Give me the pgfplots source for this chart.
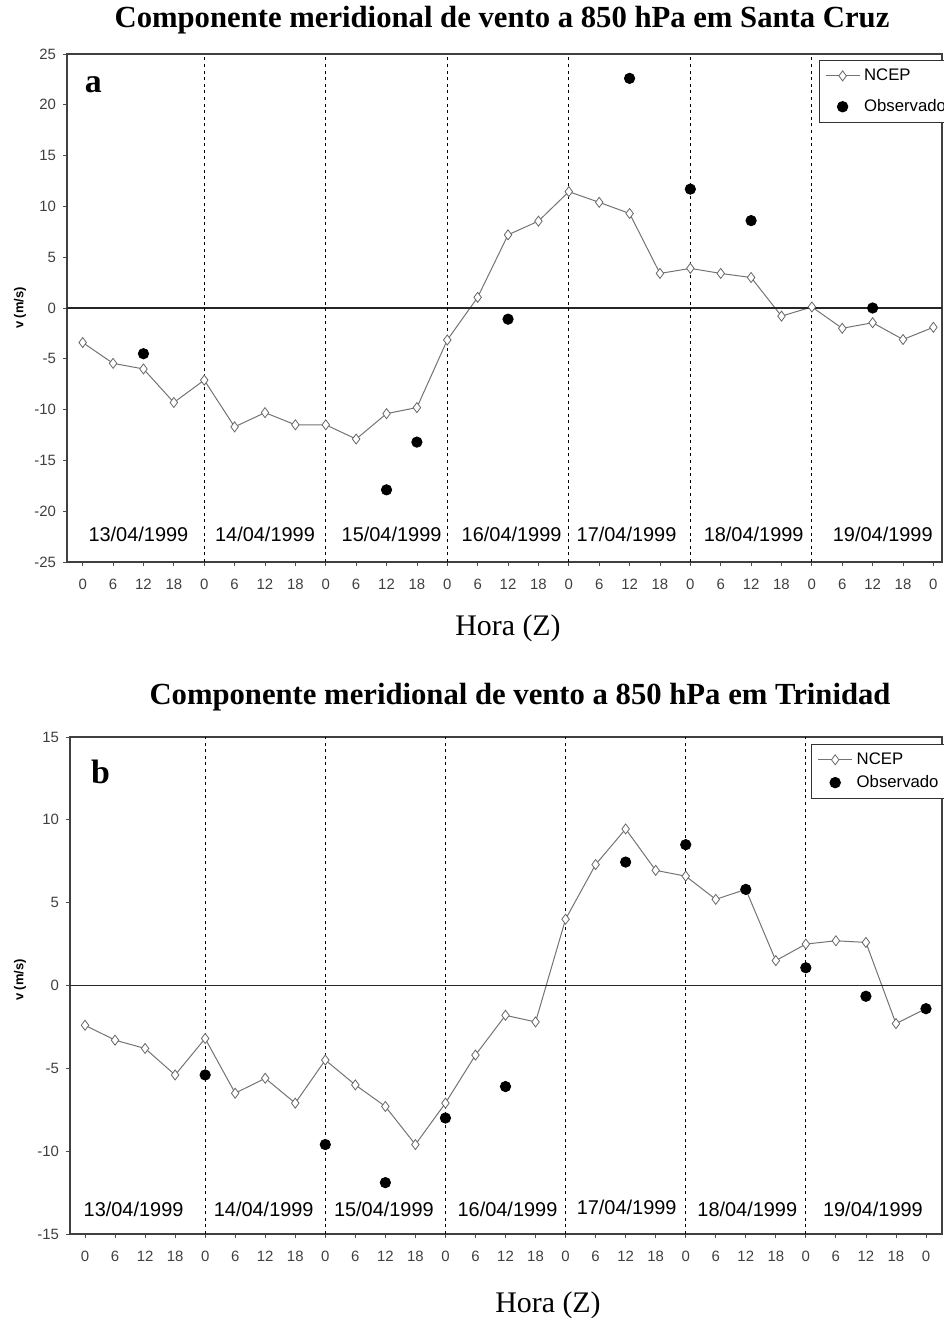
\documentclass[border=0pt]{standalone}
\usepackage{fontspec}
\setmainfont{Liberation Sans}
\newfontfamily\serif{Liberation Serif}
\usepackage{pgfplots}
\pgfplotsset{compat=1.18}
\pgfplotsset{
 myax/.style={
  scale only axis, anchor=south west,
  xtick={0,6,...,168},
  xticklabels={0,6,12,18,0,6,12,18,0,6,12,18,0,6,12,18,0,6,12,18,0,6,12,18,0,6,12,18,0},
  xtick pos=bottom, ytick pos=left, tick align=outside, major tick length=2bp,
  tick style={black!70, line width=0.4pt},
  axis line style={black!75, line width=0.6pt},
  ticklabel style={font=\fontsize{7.5}{8}\selectfont, text=black!75},
  xticklabel style={yshift=-3bp},
  /pgf/number format/assume math mode=true,
  clip=false,
  legend cell align=left,
  legend style={font=\fontsize{8.4}{9}\selectfont, draw=black!80, line width=0.5pt, anchor=north west},
 },
 ncep/.style={black!55, line width=0.5pt, mark=diamond*, mark options={fill=white, draw=black!60, line width=0.4pt}, mark size=2.5bp},
 obs/.style={only marks, mark=*, mark size=2.6bp, black, mark options={fill=black}},
 vl/.style={forget plot, black, line width=0.5pt, dash pattern=on 1.5bp off 1.8bp},
}
\begin{document}
\begin{tikzpicture}
\useasboundingbox (0,0) rectangle (472bp,659bp);
% titles
\node[font=\serif\bfseries\fontsize{15.4}{18}\selectfont] at (251bp,649bp) {Componente meridional de vento a 850 hPa em Santa Cruz};
\node[font=\serif\bfseries\fontsize{15.4}{18}\selectfont] at (260bp,310.5bp) {Componente meridional de vento a 850 hPa em Trinidad};
\node[font=\serif\fontsize{15}{18}\selectfont] at (254bp,345bp) {Hora (Z)};
\node[font=\serif\fontsize{15}{18}\selectfont] at (274bp,6.5bp) {Hora (Z)};
\node[font=\bfseries\fontsize{6.5}{8}\selectfont, rotate=90] at (10bp,505bp) {v (m/s)};
\node[font=\bfseries\fontsize{6.5}{8}\selectfont, rotate=90] at (10bp,169bp) {v (m/s)};

% top axis
\begin{axis}[myax, at={(33.5bp,378bp)}, width=437.5bp, height=254bp,
  xmin=-3.1, xmax=169.7, ymin=-25, ymax=25, ytick={-25,-20,...,25},
  legend style={at={(rel axis cs:0.859,0.988)}, row sep=4bp}]
\addplot[ncep] coordinates {(0,-3.4)(6,-5.45)(12,-6.0)(18,-9.3)(24,-7.1)(30,-11.7)(36,-10.3)(42,-11.5)(48,-11.5)(54,-12.9)(60,-10.4)(66,-9.8)(72,-3.15)(78,1.05)(84,7.2)(90,8.55)(96,11.45)(102,10.4)(108,9.3)(114,3.4)(120,3.9)(126,3.4)(132,3.0)(138,-0.8)(144,0.1)(150,-2.0)(156,-1.45)(162,-3.1)(168,-1.9)};
\addlegendentry{NCEP}
\addplot[obs] coordinates {(12,-4.5)(60,-17.9)(66,-13.2)(84,-1.1)(108,22.6)(120,11.7)(132,8.6)(156,0.0)};
\addlegendentry{Observado}
\addplot[forget plot, black!85, line width=0.6pt] coordinates {(-3.1,0)(169.7,0)};
\addplot[vl] coordinates {(24,-25)(24,25)};
\addplot[vl] coordinates {(48,-25)(48,25)};
\addplot[vl] coordinates {(72,-25)(72,25)};
\addplot[vl] coordinates {(96,-25)(96,25)};
\addplot[vl] coordinates {(120,-25)(120,25)};
\addplot[vl] coordinates {(144,-25)(144,25)};
\node[font=\serif\bfseries\fontsize{17}{20}\selectfont] at (rel axis cs:0.03,0.94) {a};
\begin{scope}[every node/.style={font=\fontsize{10}{12}\selectfont}]
\node at (axis cs:11,-22.3) {13/04/1999};
\node at (axis cs:36,-22.3) {14/04/1999};
\node at (axis cs:61,-22.3) {15/04/1999};
\node at (axis cs:84.7,-22.3) {16/04/1999};
\node at (axis cs:107.4,-22.3) {17/04/1999};
\node at (axis cs:132.5,-22.3) {18/04/1999};
\node at (axis cs:158,-22.3) {19/04/1999};
\end{scope}
\end{axis}

% bottom axis
\begin{axis}[myax, at={(35bp,42bp)}, width=436bp, height=248.5bp,
  xmin=-3.0, xmax=171.2, ymin=-15, ymax=15, ytick={-15,-10,...,15},
  legend style={at={(rel axis cs:0.85,0.986)}, row sep=0bp}]
\addplot[ncep] coordinates {(0,-2.4)(6,-3.3)(12,-3.8)(18,-5.4)(24,-3.2)(30,-6.5)(36,-5.6)(42,-7.1)(48,-4.5)(54,-6.0)(60,-7.3)(66,-9.6)(72,-7.1)(78,-4.2)(84,-1.8)(90,-2.2)(96,4.0)(102,7.3)(108,9.45)(114,6.95)(120,6.6)(126,5.2)(132,5.8)(138,1.5)(144,2.5)(150,2.7)(156,2.6)(162,-2.3)(168,-1.4)};
\addlegendentry{NCEP}
\addplot[obs] coordinates {(24,-5.4)(48,-9.6)(60,-11.9)(72,-8.0)(84,-6.1)(108,7.45)(120,8.5)(132,5.8)(144,1.07)(156,-0.65)(168,-1.4)};
\addlegendentry{Observado}
\addplot[forget plot, black!85, line width=0.6pt] coordinates {(-3.0,0)(171.2,0)};
\addplot[vl] coordinates {(24,-15)(24,15)};
\addplot[vl] coordinates {(48,-15)(48,15)};
\addplot[vl] coordinates {(72,-15)(72,15)};
\addplot[vl] coordinates {(96,-15)(96,15)};
\addplot[vl] coordinates {(120,-15)(120,15)};
\addplot[vl] coordinates {(144,-15)(144,15)};
\node[font=\serif\bfseries\fontsize{17}{20}\selectfont] at (rel axis cs:0.035,0.93) {b};
\begin{scope}[every node/.style={font=\fontsize{10}{12}\selectfont}]
\node at (axis cs:9.7,-13.5) {13/04/1999};
\node at (axis cs:35.7,-13.5) {14/04/1999};
\node at (axis cs:59.7,-13.5) {15/04/1999};
\node at (axis cs:84.4,-13.5) {16/04/1999};
\node at (axis cs:108.2,-13.4) {17/04/1999};
\node at (axis cs:132.3,-13.5) {18/04/1999};
\node at (axis cs:157.4,-13.5) {19/04/1999};
\end{scope}
\end{axis}
\end{tikzpicture}
\end{document}
